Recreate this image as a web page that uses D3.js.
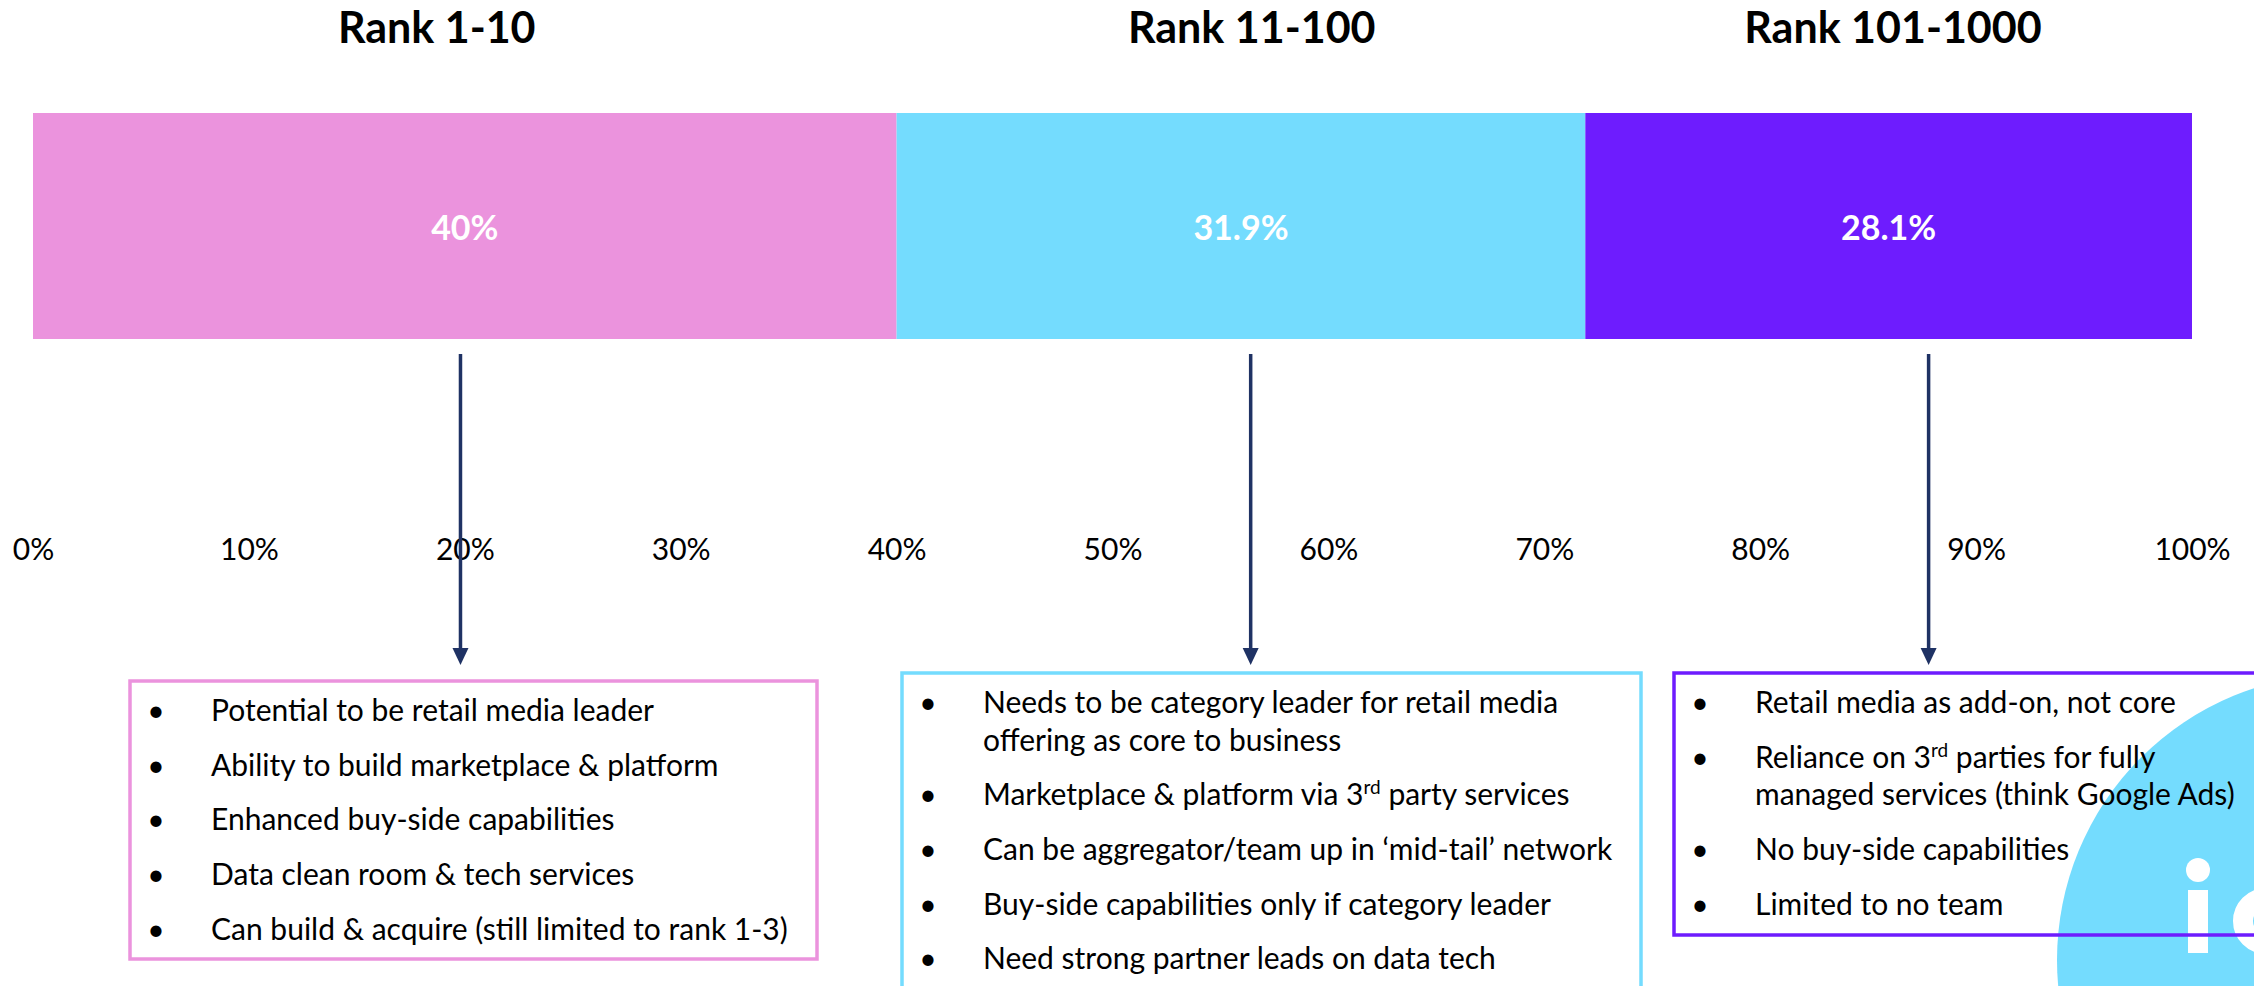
<!DOCTYPE html>
<html>
<head>
<meta charset="utf-8">
<script src="https://cdn.jsdelivr.net/npm/d3@7"></script>
<style>
  html, body { margin: 0; padding: 0; background: #fff; overflow: hidden; }
  text { font-family: Lato, "Open Sans", sans-serif; }
</style>
</head>
<body>
<div id="chart"></div>
<script>
// data
var categories = ["Rank 1-10", "Rank 11-100", "Rank 101-1000"];
var shares = [40, 31.9, 28.1];
var shareLabels = ["40%", "31.9%", "28.1%"];
var tickValues = [0, 10, 20, 30, 40, 50, 60, 70, 80, 90, 100];
var colors = ["#EB93DD", "#74DCFE", "#6E1CFE"];

// where the titles and arrows sit, in % of the axis
var titleAt = [18.7, 56.45, 86.15];
var arrowAt = [19.8, 56.4, 87.8];

// bullet notes per group (each item may wrap on several lines, "^" marks superscript)
var notes1 = [
  ["Potential to be retail media leader"],
  ["Ability to build marketplace & platform"],
  ["Enhanced buy-side capabilities"],
  ["Data clean room & tech services"],
  ["Can build & acquire (still limited to rank 1-3)"]
];
var notes2 = [
  ["Needs to be category leader for retail media", "offering as core to business"],
  ["Marketplace & platform via 3^rd^ party services"],
  ["Can be aggregator/team up in \u2018mid-tail\u2019 network"],
  ["Buy-side capabilities only if category leader"],
  ["Need strong partner leads on data tech"]
];
var notes3 = [
  ["Retail media as add-on, not core"],
  ["Reliance on 3^rd^ parties for fully", "managed services (think Google Ads)"],
  ["No buy-side capabilities"],
  ["Limited to no team"]
];

var width = 2254, height = 986;
var svg = d3.select("#chart").append("svg")
  .attr("width", width)
  .attr("height", height);

var x = d3.scaleLinear().domain([0, 100]).range([33, 2192]);

var barTop = 113, barHeight = 226;

// logo circle in the corner (behind everything)
var logo = svg.append("g");
logo.append("circle")
  .attr("cx", 2343).attr("cy", 960).attr("r", 286)
  .attr("fill", "#74DCFE");
logo.append("circle")
  .attr("cx", 2198).attr("cy", 870).attr("r", 12)
  .attr("fill", "#fff");
logo.append("rect")
  .attr("x", 2188).attr("y", 890).attr("width", 20).attr("height", 63)
  .attr("fill", "#fff");
logo.append("circle")
  .attr("cx", 2266).attr("cy", 921).attr("r", 23)
  .attr("fill", "none").attr("stroke", "#fff").attr("stroke-width", 20);

// stacked bar
var start = 0;
var segs = shares.map(function (v, i) {
  var s = { i: i, x0: start, x1: start + v };
  start += v;
  return s;
});

svg.append("g").selectAll("rect")
  .data(segs)
  .enter().append("rect")
  .attr("x", function (d) { return x(d.x0); })
  .attr("y", barTop)
  .attr("width", function (d) { return x(d.x1) - x(d.x0); })
  .attr("height", barHeight)
  .attr("fill", function (d) { return colors[d.i]; });

svg.append("g").selectAll("text")
  .data(segs)
  .enter().append("text")
  .attr("x", function (d) { return x((d.x0 + d.x1) / 2); })
  .attr("y", barTop + barHeight / 2 + 2)
  .attr("dy", "0.36em")
  .attr("text-anchor", "middle")
  .attr("fill", "#fff")
  .style("font-size", "34px")
  .style("font-weight", "bold")
  .text(function (d) { return shareLabels[d.i]; });

// titles
svg.append("g").selectAll("text")
  .data(categories)
  .enter().append("text")
  .attr("x", function (d, i) { return x(titleAt[i]); })
  .attr("y", 43)
  .attr("text-anchor", "middle")
  .attr("fill", "#000")
  .style("font-size", "43px")
  .style("font-weight", "bold")
  .text(function (d) { return d; });

// x axis, labels only
var axis = svg.append("g")
  .attr("transform", "translate(0,539)")
  .call(d3.axisBottom(x).tickValues(tickValues)
    .tickFormat(function (d) { return d + "%"; })
    .tickSize(0).tickPadding(0));
axis.select(".domain").remove();
axis.selectAll("text")
  .attr("font-family", "Lato, sans-serif")
  .style("font-size", "30px")
  .attr("fill", "#000");

// arrows
var arrowColor = "#1F3264";
var arrows = svg.append("g").selectAll("g")
  .data(arrowAt)
  .enter().append("g");
arrows.append("line")
  .attr("x1", function (d) { return x(d); })
  .attr("x2", function (d) { return x(d); })
  .attr("y1", 354).attr("y2", 652)
  .attr("stroke", arrowColor)
  .attr("stroke-width", 3.5);
arrows.append("path")
  .attr("d", function (d) {
    var cx = x(d);
    return "M" + (cx - 8) + ",648 L" + (cx + 8) + ",648 L" + cx + ",665 Z";
  })
  .attr("fill", arrowColor);

// note boxes
var boxes = [
  { notes: notes1, left: 130, right: 817, top: 681, bottom: 959, color: colors[0], first: 721 },
  { notes: notes2, left: 902, right: 1641, top: 673, bottom: 1010, color: colors[1], first: 713 },
  { notes: notes3, left: 1674, right: 2300, top: 673, bottom: 935, color: colors[2], first: 713 }
];

boxes.forEach(function (b) {
  var g = svg.append("g");
  g.append("rect")
    .attr("x", b.left).attr("y", b.top)
    .attr("width", b.right - b.left).attr("height", b.bottom - b.top)
    .attr("fill", "none")
    .attr("stroke", b.color)
    .attr("stroke-width", 3.5);

  var y = b.first;
  b.notes.forEach(function (item) {
    g.append("text")
      .attr("x", b.left + 26)
      .attr("y", y)
      .attr("text-anchor", "middle")
      .style("font-size", "30px")
      .attr("fill", "#000")
      .text("\u2022");
    item.forEach(function (line, li) {
      var t = g.append("text")
        .attr("x", b.left + 81)
        .attr("y", y)
        .style("font-size", "30px")
        .attr("fill", "#000");
      var parts = line.split("^");
      parts.forEach(function (p, pi) {
        if (pi % 2 === 1) {
          t.append("tspan").attr("dy", -11).style("font-size", "19px").text(p);
        } else {
          var ts = t.append("tspan").text(p);
          if (pi > 0) ts.attr("dy", 11);
        }
      });
      if (li < item.length - 1) y += 37.5;
    });
    y += 54.7;
  });
});
</script>
</body>
</html>
